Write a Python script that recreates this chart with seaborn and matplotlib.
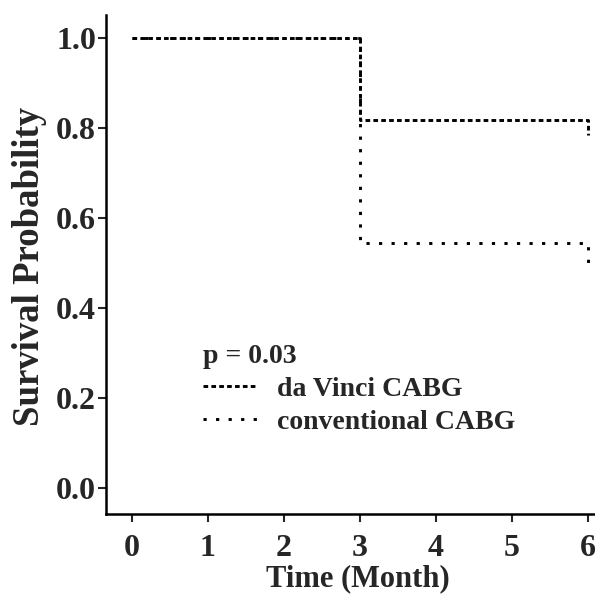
import numpy as np
import pandas as pd
import matplotlib
matplotlib.use('Agg')
import matplotlib.pyplot as plt
import seaborn as sns

sns.set_style('ticks')
plt.rcParams['font.family'] = ['Liberation Serif', 'DejaVu Serif']
plt.rcParams['font.weight'] = 'bold'

# Kaplan-Meier estimates
time_month = [0, 3, 6]
surv_davinci = [1.0, 0.818, 0.785]
surv_conventional = [1.0, 0.545, 0.49]
groups = ['da Vinci CABG', 'conventional CABG']
p_text = 'p = 0.03'

df = pd.DataFrame({
    'Time': time_month * 2,
    'Survival': surv_davinci + surv_conventional,
    'Group': [groups[0]] * 3 + [groups[1]] * 3,
})

fig = plt.figure(figsize=(5.95, 5.99), dpi=100)
ax = fig.add_axes([0.178, 0.142, 0.822, 0.833])

sns.lineplot(data=df, x='Time', y='Survival', hue='Group', style='Group',
             palette={groups[0]: 'black', groups[1]: 'black'},
             dashes={groups[0]: (1.6, 1.1), groups[1]: (1.1, 3.2)},
             hue_order=groups, style_order=groups,
             estimator=None, drawstyle='steps-post', lw=2.1,
             legend=False, ax=ax)

ax.set_xlim(-0.34, 6.09)
ax.set_ylim(-0.058, 1.051)
ax.set_xticks(range(0, 7))
ax.set_yticks(np.arange(0, 1.01, 0.2))
ax.set_yticklabels(['%.1f' % v for v in np.arange(0, 1.01, 0.2)])
ax.tick_params(labelsize=23, width=1.5, length=5.5, direction='out')
ax.tick_params(axis='x', pad=9)
ax.tick_params(axis='y', pad=1.5)
for s in ['top', 'right']:
    ax.spines[s].set_visible(False)
for s in ['left', 'bottom']:
    ax.spines[s].set_linewidth(1.8)
    ax.spines[s].set_color('black')

ax.set_xlabel('Time (Month)', fontsize=22, fontweight='bold')
ax.set_ylabel('Survival Probability', fontsize=26.5, fontweight='bold')
ax.xaxis.set_label_coords(0.515, -0.1)
ax.yaxis.set_label_coords(-0.12, 0.497)

leg = ax.legend(ax.lines, groups, title=p_text, alignment='left',
                loc='upper left', bbox_to_anchor=(0.198, 0.341),
                frameon=False, fontsize=20, title_fontsize=20,
                handlelength=1.95, handletextpad=0.72, labelspacing=0.27,
                borderaxespad=0, borderpad=0)
leg.get_title().set_fontweight('bold')

fig.savefig('out.png', dpi=100)
